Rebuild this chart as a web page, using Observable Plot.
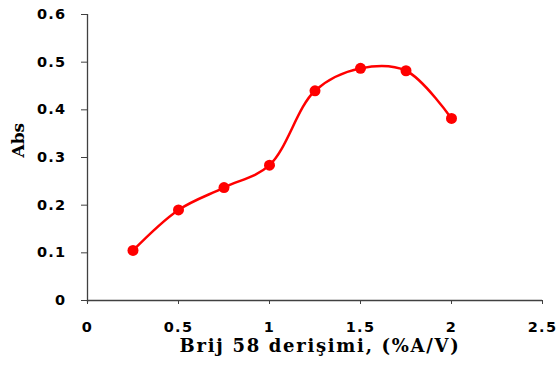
<!DOCTYPE html>
<html>
<head>
<meta charset="utf-8">
<script src="https://cdn.jsdelivr.net/npm/d3@7"></script>
<script src="https://cdn.jsdelivr.net/npm/@observablehq/plot@0.6"></script>
<style>
  html, body { margin: 0; padding: 0; background: #fff; }
  #chart svg { display: block; }
</style>
</head>
<body>
<div id="chart"></div>
<script>
const concentrations = [0.25, 0.5, 0.75, 1, 1.25, 1.5, 1.75, 2];
const absValues = [0.105, 0.190, 0.237, 0.284, 0.440, 0.487, 0.482, 0.382];
const xTicks = [0, 0.5, 1, 1.5, 2, 2.5];
const yTicks = [0, 0.1, 0.2, 0.3, 0.4, 0.5, 0.6];
const xTitle = "Brij 58 derişimi, (%A/V)";
const yTitle = "Abs";

const data = concentrations.map((c, i) => ({x: c, y: absValues[i]}));
const axisColor = "#404040";
const tickLabels = new Set([...xTicks, ...yTicks].map(String));

const chart = Plot.plot({
  width: 558,
  height: 367,
  marginLeft: 87,
  marginRight: 16,
  marginTop: 14,
  marginBottom: 67,
  style: {fontFamily: "'DejaVu Sans', sans-serif", background: "#fff", color: "#000"},
  x: {domain: [0, 2.5]},
  y: {domain: [0, 0.6]},
  marks: [
    Plot.axisX(xTicks, {tickSize: 4, tickPadding: 17, label: null, stroke: axisColor, fontSize: 14.5, fontWeight: "bold", tickFormat: d => String(d)}),
    Plot.axisY(yTicks, {tickSize: 6, tickPadding: 15, label: null, stroke: axisColor, fontSize: 14.5, fontWeight: "bold", tickFormat: d => String(d)}),
    Plot.ruleY([0], {stroke: axisColor, strokeWidth: 1.3}),
    Plot.ruleX([0], {stroke: axisColor, strokeWidth: 1.3, y1: -0.005, y2: 0.6}),
    Plot.line(data, {x: "x", y: "y", curve: "catmull-rom", stroke: "#ff0000", strokeWidth: 2.5}),
    Plot.dot(data, {x: "x", y: "y", r: 5.5, fill: "#ff0000", stroke: "none"}),
    Plot.text([xTitle], {frameAnchor: "bottom", dx: 5, dy: 51, fontSize: 18, fontWeight: "bold", fontFamily: "'DejaVu Serif', serif", fill: "#000"}),
    Plot.text([yTitle], {frameAnchor: "left", dx: -69, rotate: -90, fontSize: 17, fontWeight: "bold", fontFamily: "'DejaVu Serif', serif", fill: "#000"})
  ]
});
d3.select(chart).selectAll("text")
  .filter(function() { return this.textContent === xTitle; })
  .attr("letter-spacing", "1.7px");
d3.select(chart).selectAll("text")
  .filter(function() { return tickLabels.has(this.textContent); })
  .attr("letter-spacing", "1.3px");
document.getElementById("chart").appendChild(chart);
</script>
</body>
</html>
